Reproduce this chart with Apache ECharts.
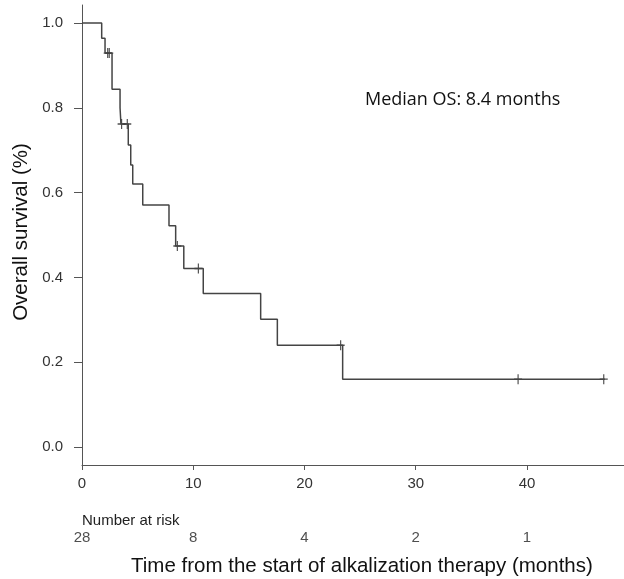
<!DOCTYPE html>
<html><head><meta charset="utf-8">
<script src="https://cdn.jsdelivr.net/npm/echarts@6/dist/echarts.min.js"></script>
<style>html,body{margin:0;padding:0;background:#fff}#c{width:624px;height:579px}</style>
</head><body><div id="c"></div>
<script>
const eventTimes = [0, 1.77, 2.07, 2.7, 3.42, 3.5, 4.16, 4.38, 4.56, 5.46, 7.82, 8.42, 9.15, 10.9, 16.06, 17.56, 23.43, 47.0];
const survival   = [1.0, 0.964, 0.929, 0.844, 0.80, 0.762, 0.712, 0.665, 0.62, 0.571, 0.522, 0.474, 0.421, 0.362, 0.301, 0.240, 0.160, 0.160];
const censorTimes = [2.31, 2.45, 3.56, 4.07, 8.57, 10.46, 23.25, 39.2, 46.9];
const censorSurv  = [0.929, 0.929, 0.762, 0.762, 0.474, 0.421, 0.240, 0.160, 0.160];
const xTicks = [0, 10, 20, 30, 40];
const yTicks = [0, 0.2, 0.4, 0.6, 0.8, 1.0];
const riskTimes  = [0, 10, 20, 30, 40];
const riskCounts = [28, 8, 4, 2, 1];
const xTitle = 'Time from the start of alkalization therapy (months)';
const yTitle = 'Overall survival (%)';
const riskTitle = 'Number at risk';
const medianText = 'Median OS: 8.4 months';

const FONT = "'Liberation Sans', Arial, sans-serif";
const chart = echarts.init(document.getElementById('c'), null, {renderer: 'canvas'});
const xMax = 48.72, yMin = -0.0425, yMax = 1.0425;

const option = {
  animation: false,
  backgroundColor: '#fff',
  grid: [
    {left: 82, right: 0, top: 5, height: 460},
    {left: 82, right: 0, top: 530, height: 16}
  ],
  xAxis: [{
    type: 'value', gridIndex: 0, min: 0, max: xMax,
    axisLine: {show: true, onZero: false, lineStyle: {color: '#555', width: 1}},
    axisTick: {show: true, inside: false, length: 5, lineStyle: {color: '#555'}, customValues: xTicks},
    axisLabel: {show: true, margin: 11, fontSize: 15, color: '#333', fontFamily: FONT, customValues: xTicks},
    splitLine: {show: false}
  }, {
    type: 'value', gridIndex: 1, min: 0, max: xMax, show: false
  }],
  yAxis: [{
    type: 'value', gridIndex: 0, min: yMin, max: yMax,
    axisLine: {show: true, onZero: false, lineStyle: {color: '#555', width: 1}},
    axisTick: {show: true, inside: false, length: 8, lineStyle: {color: '#555'}, customValues: yTicks},
    axisLabel: {show: true, margin: 19, fontSize: 15, color: '#333', fontFamily: FONT,
      customValues: yTicks, formatter: v => v.toFixed(1)},
    splitLine: {show: false}
  }, {
    type: 'value', gridIndex: 1, min: 0, max: 1, show: false
  }],
  series: [{
    type: 'line', xAxisIndex: 0, yAxisIndex: 0, step: 'end',
    data: eventTimes.map((t, i) => [t, survival[i]]),
    showSymbol: false, symbol: 'none',
    lineStyle: {color: '#444', width: 1.5}
  }, {
    type: 'scatter', xAxisIndex: 0, yAxisIndex: 0,
    data: censorTimes.map((t, i) => [t, censorSurv[i]]),
    symbol: 'path://M5,0L5,10M0,5L10,5', symbolSize: [8, 10],
    itemStyle: {color: 'none', borderColor: '#222', borderWidth: 1.3}
  }, {
    type: 'scatter', xAxisIndex: 1, yAxisIndex: 1,
    data: riskTimes.map((t, i) => [t, 0.5, riskCounts[i]]),
    symbolSize: 1, itemStyle: {color: 'rgba(0,0,0,0)'},
    label: {show: true, position: 'inside', formatter: p => String(p.value[2]),
      fontSize: 15, color: '#222', fontFamily: FONT}
  }],
  graphic: [
    {type: 'text', left: 131, top: 556, style: {text: xTitle, fontSize: 20.5, fontFamily: FONT, fill: '#111'}},
    {type: 'text', x: 21, y: 232, rotation: Math.PI / 2,
      style: {text: yTitle, fontSize: 20.5, fontFamily: FONT, fill: '#111', align: 'center', verticalAlign: 'middle'}},
    {type: 'text', left: 82, top: 513, style: {text: riskTitle, fontSize: 15, fontFamily: FONT, fill: '#222'}},
    {type: 'text', left: 365, top: 91, style: {text: medianText, fontSize: 18, fontFamily: "'Open Sans', sans-serif", fill: '#111'}}
  ]
};
chart.setOption(option);
</script>
</body></html>
